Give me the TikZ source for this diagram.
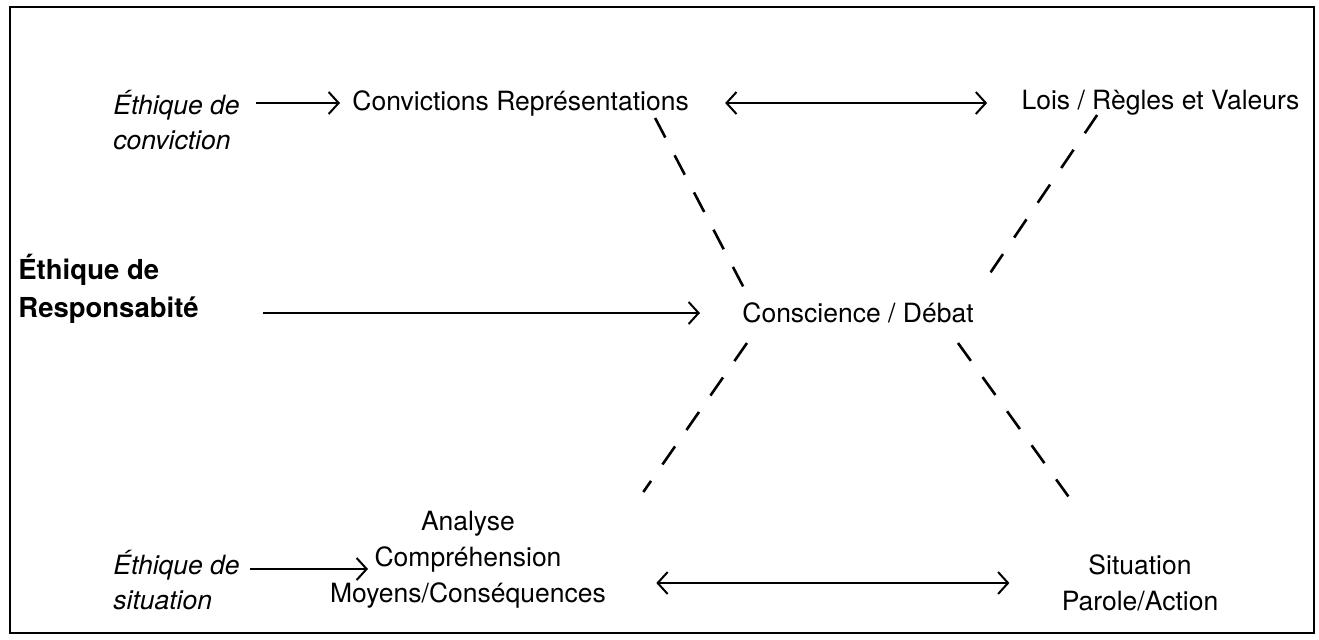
\documentclass[tikz,border=0pt]{standalone}
\usepackage{fontspec}
\setmainfont{TeX Gyre Heros}
\usetikzlibrary{positioning,arrows.meta,calc}

\begin{document}
\begin{tikzpicture}[x=0.5pt,y=-0.5pt,
  txt/.style={inner sep=0pt,align=center,font=\fontsize{13.25}{18}\selectfont},
  ital/.style={txt,align=left,font=\fontsize{13.25}{17.5}\selectfont\itshape},
  bld/.style={txt,align=left,font=\fontsize{13.75}{19}\selectfont\bfseries},
  arr/.style={-{Straight Barb[length=5pt,width=11pt]},line width=1pt},
  dbl/.style={{Straight Barb[length=5pt,width=11pt]}-{Straight Barb[length=5pt,width=11pt]},line width=1pt},
  dsh/.style={line width=1.3pt,dash pattern=on 11pt off 10pt}
]
\useasboundingbox (0,0) rectangle (1319,639);
\draw[line width=0.8pt] (10,7) rectangle (1314,633);

% top row
\node[ital,anchor=west] (ethconv) at (113,120) {Éthique de\\conviction};
\node[txt,anchor=west] (conv) at (352,103) {Convictions Représentations};
\node[txt,right=166pt of conv] (lois) {Lois / Règles et Valeurs};

% middle
\node[bld,anchor=west] (ethresp) at (18,289) {Éthique de\\Responsabité};
\node[txt] (consc) at (858,313) {Conscience / Débat};

% bottom row
\node[ital,anchor=west] (ethsit) at (113,580) {Éthique de\\situation};
\node[txt] (analyse) at (468,560) {Analyse\\Compréhension\\Moyens/Conséquences};
\node[txt] (sit) at (1140,583) {Situation\\Parole/Action};
\coordinate (cmpin) at (368,569);

\draw[arr,shorten <=8pt,shorten >=6pt] (ethconv.east |- conv.west) -- (conv.west);
\draw[dbl,shorten <=18pt,shorten >=17pt] (conv.east) -- (lois.west);
\draw[arr,shorten <=32pt,shorten >=21pt] (ethresp.east |- consc.west) -- (consc.west);
\draw[arr,shorten <=5pt] (ethsit.east |- cmpin) -- (cmpin);
\draw[dbl,shorten <=25pt,shorten >=26pt] (analyse.east |- sit.west) -- (sit.west);

% dashed cross
\draw[dsh] ($(conv.east)+(-34,15)$) -- ($(consc.west)+(3,-23)$);
\draw[dsh] ($(lois.west)+(76,12)$) -- ($(consc.east)+(8,-28)$);
\draw[dsh] ($(consc.west)+(5,30)$) -- ($(analyse.east)+(37,-68)$);
\draw[dsh] ($(consc.east)+(-16,30)$) -- ($(sit.north west)+(7,-58)$);
\end{tikzpicture}
\end{document}
